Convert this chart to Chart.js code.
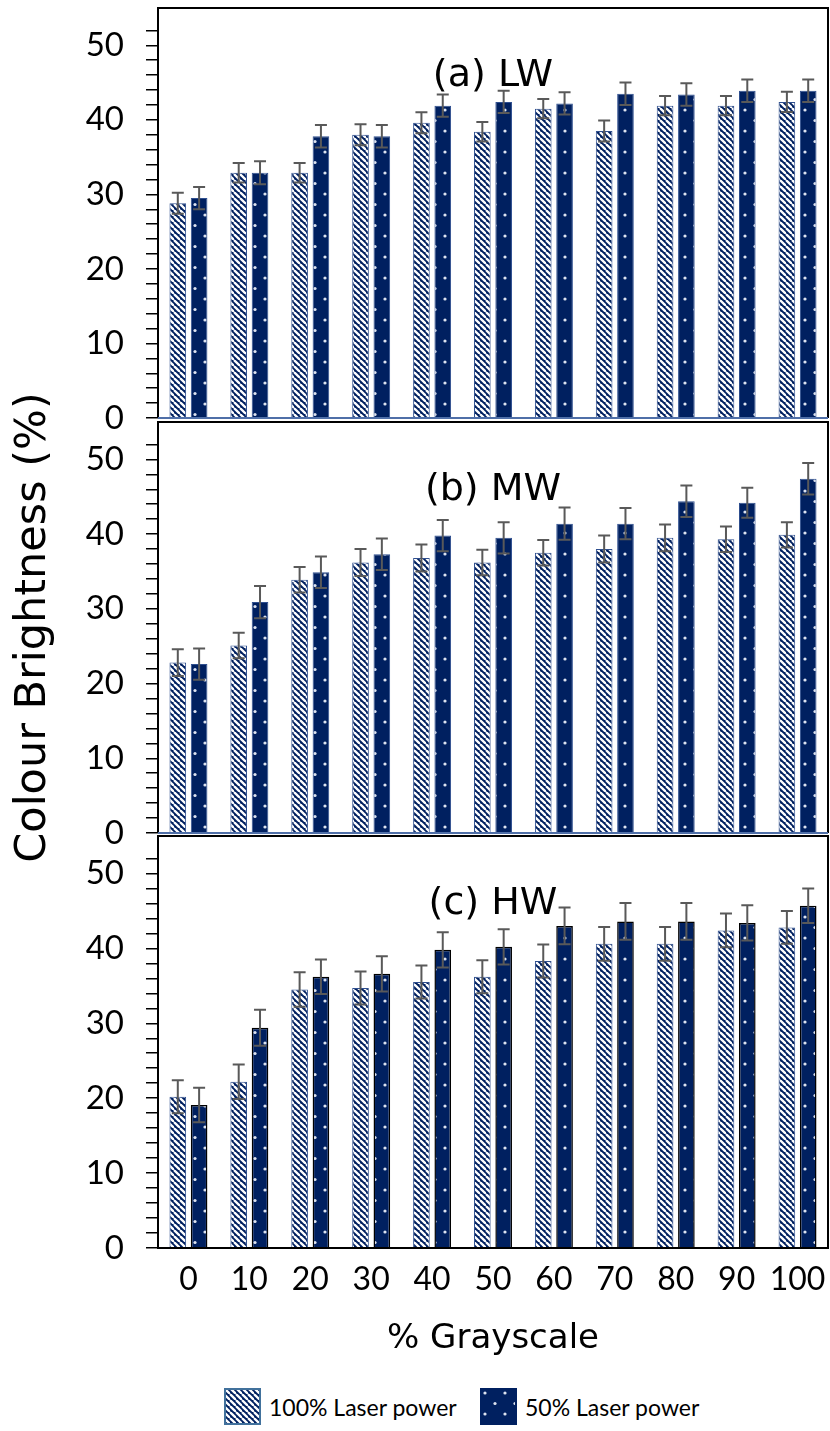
<!DOCTYPE html>
<html>
<head>
<meta charset="utf-8">
<script src="https://cdn.jsdelivr.net/npm/chart.js@4.4.0/dist/chart.umd.min.js"></script>
<style>
  body { margin: 0; background: #fff; font-family: Lato, sans-serif; }
  #wrap { position: relative; width: 830px; height: 1431px; overflow: hidden; }
  canvas.panel { position: absolute; left: 0; }
  .leg { position: absolute; display: flex; align-items: center; font-size: 23px; color: #000; }
  .leg canvas { margin-right: 8px; }
</style>
</head>
<body>
<div id="wrap">
  <canvas id="chart-lw" class="panel" width="830" height="440" style="top:0px"></canvas>
  <canvas id="chart-mw" class="panel" width="830" height="510" style="top:360px"></canvas>
  <canvas id="chart-hw" class="panel" width="830" height="542" style="top:828px"></canvas>
  <div class="leg" style="left:224px; top:1388px;"><canvas id="sw-100" width="37" height="37"></canvas>100% Laser power</div>
  <div class="leg" style="left:480px; top:1388px;"><canvas id="sw-50" width="37" height="37"></canvas>50% Laser power</div>
</div>
<script>
const grayscale = ['0', '10', '20', '30', '40', '50', '60', '70', '80', '90', '100'];

// (a) LW
const lw100 = [28.8, 32.9, 32.9, 38.0, 39.6, 38.4, 41.5, 38.5, 41.9, 41.9, 42.4];
const lw50 = [29.5, 32.9, 37.8, 37.8, 41.9, 42.4, 42.2, 43.5, 43.4, 43.9, 43.9];
const lw100Err = [1.4, 1.3, 1.3, 1.4, 1.4, 1.3, 1.3, 1.4, 1.3, 1.3, 1.35];
const lw50Err = [1.5, 1.55, 1.5, 1.5, 1.5, 1.5, 1.5, 1.5, 1.5, 1.5, 1.5];

// (b) MW
const mw100 = [22.8, 25.1, 33.9, 36.2, 36.8, 36.2, 37.5, 38.0, 39.5, 39.3, 39.9];
const mw50 = [22.6, 30.9, 34.9, 37.3, 39.8, 39.5, 41.4, 41.4, 44.4, 44.2, 47.4];
const mw100Err = [1.8, 1.7, 1.7, 1.8, 1.8, 1.7, 1.7, 1.8, 1.8, 1.7, 1.7];
const mw50Err = [2.1, 2.15, 2.1, 2.1, 2.1, 2.1, 2.15, 2.1, 2.1, 2.0, 2.1];

// (c) HW
const hw100 = [20.2, 22.2, 34.5, 34.7, 35.5, 36.2, 38.3, 40.6, 40.6, 42.4, 42.8];
const hw50 = [19.1, 29.4, 36.2, 36.6, 39.8, 40.2, 43.0, 43.6, 43.6, 43.4, 45.7];
const hw100Err = [2.2, 2.3, 2.3, 2.2, 2.2, 2.2, 2.2, 2.25, 2.25, 2.25, 2.2];
const hw50Err = [2.3, 2.4, 2.3, 2.35, 2.35, 2.35, 2.45, 2.45, 2.45, 2.35, 2.3];

const NAVY = '#002060';
const FONT = 'Lato';
const TITLE_FONT = "'DejaVu Sans'";

// pattern tiles
function stripeTile() {
  const c = document.createElement('canvas');
  c.width = 6; c.height = 6;
  const g = c.getContext('2d');
  g.fillStyle = NAVY;
  g.fillRect(0, 0, 6, 6);
  g.strokeStyle = '#fff';
  g.lineWidth = 2.3;
  [-6, 0, 6].forEach(k => {
    g.beginPath(); g.moveTo(k, 0); g.lineTo(k + 6, 6); g.stroke();
  });
  return c;
}
function dotTile() {
  const c = document.createElement('canvas');
  c.width = 20; c.height = 21;
  const g = c.getContext('2d');
  g.fillStyle = NAVY;
  g.fillRect(0, 0, 20, 21);
  g.fillStyle = '#dde3f0';
  [[5, 5], [15, 15.5]].forEach(([x, y]) => {
    g.beginPath(); g.arc(x, y, 1.6, 0, Math.PI * 2); g.fill();
  });
  return c;
}
const patCtx = document.createElement('canvas').getContext('2d');
const stripes = patCtx.createPattern(stripeTile(), 'repeat');
const dots = patCtx.createPattern(dotTile(), 'repeat');

const errorBars = {
  id: 'errorBars',
  afterDatasetsDraw(chart) {
    const { ctx, scales: { y } } = chart;
    ctx.save();
    ctx.strokeStyle = '#595959';
    ctx.lineWidth = 2;
    chart.data.datasets.forEach((ds, i) => {
      chart.getDatasetMeta(i).data.forEach((bar, j) => {
        const yt = y.getPixelForValue(ds.data[j] + ds.errors[j]);
        const yb = y.getPixelForValue(ds.data[j] - ds.errors[j]);
        ctx.beginPath();
        ctx.moveTo(bar.x, yt); ctx.lineTo(bar.x, yb);
        ctx.moveTo(bar.x - 6, yt); ctx.lineTo(bar.x + 6, yt);
        ctx.moveTo(bar.x - 6, yb); ctx.lineTo(bar.x + 6, yb);
        ctx.stroke();
      });
    });
    ctx.restore();
  }
};

// box round the plot + the panel name inside it
const frame = {
  id: 'frame',
  afterDatasetsDraw(chart, args, opts) {
    const { ctx, chartArea: { left, top, right, bottom } } = chart;
    ctx.save();
    ctx.lineWidth = 2;
    ctx.strokeStyle = '#000';
    ctx.beginPath();
    ctx.moveTo(left, bottom); ctx.lineTo(left, top); ctx.lineTo(right, top); ctx.lineTo(right, bottom);
    ctx.stroke();
    ctx.strokeStyle = opts.baseColor;
    ctx.beginPath(); ctx.moveTo(left, bottom); ctx.lineTo(right, bottom); ctx.stroke();

    ctx.font = `38px ${TITLE_FONT}`;
    ctx.fillStyle = '#000';
    ctx.textAlign = 'center';
    ctx.textBaseline = 'middle';
    ctx.fillText(opts.label, (left + right) / 2, top + 68);
    ctx.restore();
  }
};

function makePanel(id, label, s100, e100, s50, e50, cfg) {
  const yScale = {
    min: 0,
    max: 55,
    border: { display: true, color: '#000', width: 2 },
    grid: {
      drawOnChartArea: false,
      tickLength: 12,
      lineWidth: 1.5,
      color: c => (c.tick && c.tick.value === 55) ? 'rgba(0,0,0,0)' : '#000'
    },
    ticks: {
      stepSize: 2,
      autoSkip: false,
      padding: 22,
      color: '#000',
      font: { family: FONT, size: 33 },
      callback: v => (v % 10 === 0 ? v : '')
    },
    afterFit: s => { s.width = 158; s.paddingTop = 0; s.paddingBottom = 0; }
  };
  if (cfg.yTitle) {
    yScale.title = {
      display: true, text: cfg.yTitle, color: '#000',
      font: { family: TITLE_FONT, size: 43 }, padding: { top: 8, bottom: 0 }
    };
  }
  const xScale = cfg.xAxis ? {
    grid: { display: false, drawTicks: false },
    border: { display: true, color: '#000', width: 2 },
    ticks: { color: '#000', font: { family: FONT, size: 32 }, padding: 12, maxRotation: 0, autoSkip: false },
    title: {
      display: true, text: '% Grayscale', color: '#000',
      font: { family: TITLE_FONT, size: 34 }, padding: { top: 0, bottom: 10 }
    },
    afterFit: s => { s.height = 122; s.paddingLeft = 0; s.paddingRight = 0; }
  } : { display: false };

  return new Chart(document.getElementById(id), {
    type: 'bar',
    data: {
      labels: grayscale,
      datasets: [{
        label: '100% Laser power',
        data: s100,
        errors: e100,
        backgroundColor: stripes,
        borderColor: '#2f4f8f',
        borderWidth: 1,
        barPercentage: 0.78,
        categoryPercentage: 0.7
      }, {
        label: '50% Laser power',
        data: s50,
        errors: e50,
        backgroundColor: dots,
        borderColor: cfg.dotBorder,
        borderWidth: cfg.dotBorderWidth,
        barPercentage: 0.78,
        categoryPercentage: 0.7
      }]
    },
    options: {
      responsive: false,
      animation: false,
      layout: { padding: { top: cfg.padTop, right: 2, bottom: cfg.padBottom, left: 0 } },
      plugins: {
        legend: { display: false },
        tooltip: { enabled: false },
        frame: { label: label, baseColor: cfg.baseColor }
      },
      scales: { x: xScale, y: yScale }
    },
    plugins: [errorBars, frame]
  });
}

makePanel('chart-lw', '(a) LW', lw100, lw100Err, lw50, lw50Err,
  { padTop: 8, padBottom: 22, baseColor: '#4f6fa8', dotBorder: '#2f4f8f', dotBorderWidth: 1 });
makePanel('chart-mw', '(b) MW', mw100, mw100Err, mw50, mw50Err,
  { padTop: 62, padBottom: 37, baseColor: '#4f6fa8', dotBorder: '#2f4f8f', dotBorderWidth: 1, yTitle: 'Colour Brightness (%)' });
makePanel('chart-hw', '(c) HW', hw100, hw100Err, hw50, hw50Err,
  { padTop: 8, padBottom: 0, baseColor: '#000', dotBorder: '#000', dotBorderWidth: 1.5, xAxis: true });

// legend swatches
function swatch(id, pat, border) {
  const g = document.getElementById(id).getContext('2d');
  g.fillStyle = pat;
  g.fillRect(0, 0, 37, 37);
  g.strokeStyle = border;
  g.lineWidth = 2;
  g.strokeRect(1, 1, 35, 35);
}
swatch('sw-100', stripes, '#41719c');
swatch('sw-50', dots, NAVY);
</script>
</body>
</html>
